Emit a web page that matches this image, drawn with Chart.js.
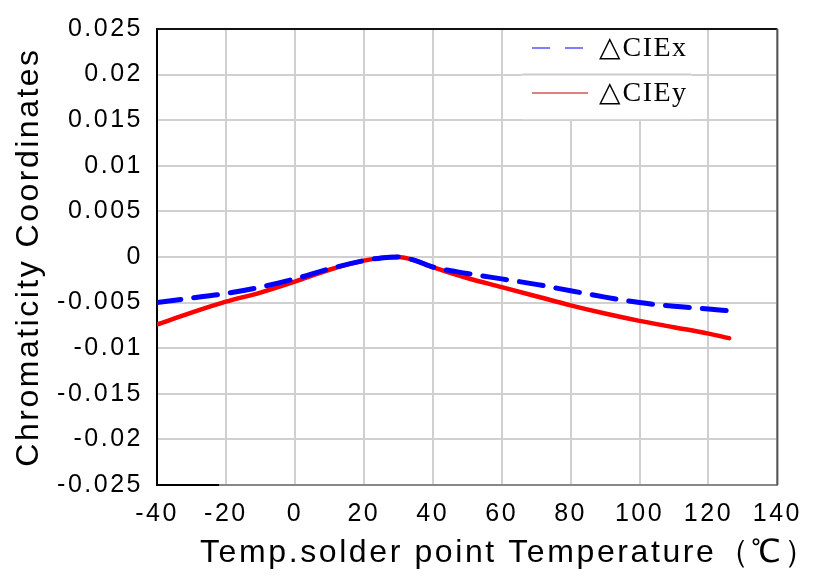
<!DOCTYPE html>
<html>
<head>
<meta charset="utf-8">
<script src="https://cdn.jsdelivr.net/npm/chart.js@4"></script>
<style>
  body { margin: 0; background: #fff; }
  canvas { display: block; }
</style>
</head>
<body>
<canvas id="myChart" width="816" height="582"></canvas>
<script>
// temperatures (°C) of the measured points
const temps = [-40, -30, -20, -10, 0, 10, 20, 25, 30, 35, 40, 50, 60, 70, 80, 90, 100, 110, 120, 126];
// delta CIEx (blue dashed)
const cieX = [-0.0050, -0.0045, -0.0040, -0.0033, -0.0024, -0.0013, -0.0004, -0.0001, 0.0000, -0.0004, -0.0011,
              -0.0018, -0.0024, -0.0030, -0.0037, -0.0044, -0.0050, -0.0054, -0.0057, -0.0059];
// delta CIEy (red)
const cieY = [-0.0074, -0.0061, -0.0049, -0.0039, -0.0027, -0.0014, -0.0004, -0.0001, 0.0000, -0.0004, -0.0011,
              -0.0023, -0.0033, -0.0043, -0.0053, -0.0062, -0.0070, -0.0077, -0.0084, -0.0089];
const seriesLabels = ['△CIEx', '△CIEy'];
const xTitle = 'Temp.solder point Temperature（℃）';
const yTitle = 'Chromaticity Coordinates';

function pts(ys) {
    return temps.map((t, i) => ({ x: t, y: ys[i] }));
}

// espacement des lettres comme sur l'image d'origine
const spacingPlugin = {
    id: 'spacing',
    beforeLayout(chart) { chart.ctx.letterSpacing = '2.5px'; },
    beforeDraw(chart) { chart.ctx.letterSpacing = '2.5px'; }
};

// cadre, titre x et légende
const decorPlugin = {
    id: 'decor',
    afterDraw(chart) {
        const ctx = chart.ctx;
        const a = chart.chartArea;
        const xs = chart.scales.x;
        const ys = chart.scales.y;
        ctx.save();
        // top + right border
        ctx.lineWidth = 2;
        ctx.strokeStyle = '#111';
        ctx.beginPath();
        ctx.moveTo(a.left, a.top);
        ctx.lineTo(a.right, a.top);
        ctx.stroke();
        ctx.strokeStyle = '#555';
        ctx.beginPath();
        ctx.moveTo(a.right, a.top);
        ctx.lineTo(a.right, a.bottom);
        ctx.stroke();
        // black bit of the bottom axis
        ctx.strokeStyle = '#000';
        ctx.beginPath();
        ctx.moveTo(a.left, a.bottom);
        ctx.lineTo(xs.getPixelForValue(-22), a.bottom);
        ctx.stroke();

        // x title
        ctx.letterSpacing = '2.6px';
        ctx.fillStyle = '#000';
        ctx.font = '32px "Liberation Sans", Arial, sans-serif';
        ctx.textAlign = 'left';
        ctx.textBaseline = 'middle';
        ctx.fillText(xTitle, 200, 553);

        // legend
        const lx = xs.getPixelForValue(66);
        const rx = xs.getPixelForValue(115);
        const lb = ys.getPixelForValue(0.015);
        ctx.fillStyle = '#fff';
        ctx.fillRect(lx, a.top + 1, rx - lx, lb - a.top - 2);
        ctx.strokeStyle = '#cccccc';
        ctx.lineWidth = 2;
        ctx.beginPath();
        ctx.moveTo(lx, ys.getPixelForValue(0.02));
        ctx.lineTo(rx, ys.getPixelForValue(0.02));
        ctx.stroke();

        ctx.letterSpacing = '1.5px';
        ctx.font = '28px "Liberation Serif", "Times New Roman", serif';
        ctx.fillStyle = '#000';
        const rows = [
            { y: 48, color: '#7f7fff', width: 2, dash: [18, 15] },
            { y: 93, color: '#c00000', width: 1, dash: [] }
        ];
        rows.forEach((r, i) => {
            ctx.strokeStyle = r.color;
            ctx.lineWidth = r.width;
            ctx.setLineDash(r.dash);
            ctx.beginPath();
            ctx.moveTo(532, r.y);
            ctx.lineTo(588, r.y);
            ctx.stroke();
            ctx.setLineDash([]);
            ctx.fillText(seriesLabels[i], 599, r.y + 1);
        });
        ctx.restore();
    }
};

const data = {
    datasets: [{
        label: seriesLabels[0],
        data: pts(cieX),
        borderColor: '#0000ff',
        borderWidth: 5,
        borderDash: [24, 13],
        borderCapStyle: 'round',
        pointRadius: 0,
        cubicInterpolationMode: 'monotone',
        order: 1
    }, {
        label: seriesLabels[1],
        data: pts(cieY),
        borderColor: '#ff0000',
        borderWidth: 4.5,
        borderCapStyle: 'round',
        pointRadius: 0,
        cubicInterpolationMode: 'monotone',
        order: 2
    }]
};

const config = {
    type: 'line',
    data: data,
    options: {
        responsive: false,
        animation: false,
        layout: { padding: { top: 24, right: 31, left: 0, bottom: 0 } },
        plugins: {
            legend: { display: false },
            tooltip: { enabled: false }
        },
        scales: {
            x: {
                type: 'linear',
                min: -40,
                max: 140,
                border: { color: '#888', width: 2 },
                grid: { color: '#d0d0d0', lineWidth: 2, drawTicks: false },
                ticks: {
                    stepSize: 20,
                    padding: 14,
                    color: '#000',
                    font: { family: '"Liberation Sans", Arial, sans-serif', size: 25 }
                },
                afterFit(scale) { scale.height = 97; }
            },
            y: {
                min: -0.025,
                max: 0.025,
                border: { color: '#000', width: 2 },
                grid: { color: '#d0d0d0', lineWidth: 2, drawTicks: false },
                ticks: {
                    stepSize: 0.005,
                    padding: 14,
                    color: '#000',
                    font: { family: '"Liberation Sans", Arial, sans-serif', size: 25 },
                    callback: (v) => String(Number(v.toFixed(3)))
                },
                title: {
                    display: true,
                    text: yTitle,
                    color: '#000',
                    padding: { top: 10, bottom: 0 },
                    font: { family: '"Liberation Sans", Arial, sans-serif', size: 32 }
                },
                afterFit(scale) { scale.width = 157; }
            }
        }
    },
    plugins: [spacingPlugin, decorPlugin]
};

window.addEventListener('load', () => {
    const myChart = new Chart(document.getElementById('myChart'), config);
});
</script>
</body>
</html>
